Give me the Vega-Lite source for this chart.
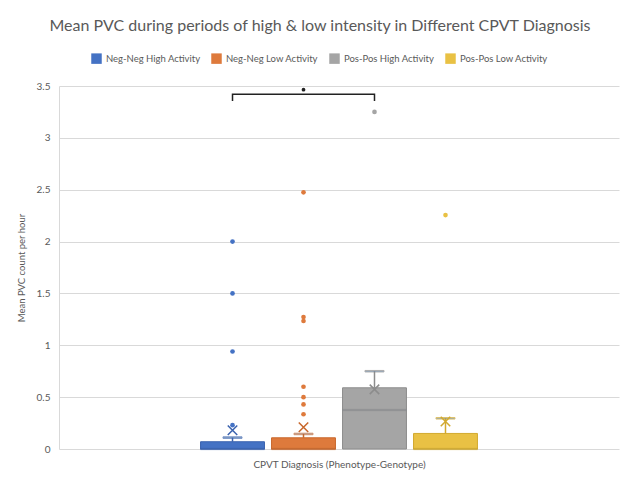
{
  "$schema": "https://vega.github.io/schema/vega-lite/v6.json",
  "autosize": {"type": "none"},
  "width": 560,
  "height": 363,
  "padding": {"left": 59, "top": 86, "right": 6, "bottom": 30},
  "background": "white",
  "config": {
    "font": "Lato",
    "view": {"stroke": null},
    "axis": {"labelColor": "#595959", "titleColor": "#595959", "labelFontSize": 10, "titleFontSize": 10, "titleFontWeight": "normal"}
  },
  "title": {
    "text": "Mean PVC during periods of high & low intensity in Different CPVT Diagnosis",
    "fontSize": 16,
    "fontWeight": "normal",
    "color": "#595959",
    "anchor": "middle",
    "dx": -19,
    "offset": 19
  },
  "datasets": {
    "stats": [
      {"group": "Neg-Neg High Activity", "q1": 0, "q3": 0.07, "median": 0, "whisker": 0.11, "mean": 0.18},
      {"group": "Neg-Neg Low Activity", "q1": 0, "q3": 0.108, "median": 0, "whisker": 0.145, "mean": 0.21},
      {"group": "Pos-Pos High Activity", "q1": 0, "q3": 0.59, "median": 0.376, "whisker": 0.75, "mean": 0.575},
      {"group": "Pos-Pos Low Activity", "q1": 0, "q3": 0.15, "median": 0, "whisker": 0.296, "mean": 0.265}
    ],
    "outliers": [
      {"group": "Neg-Neg High Activity", "value": 2.0},
      {"group": "Neg-Neg High Activity", "value": 1.5},
      {"group": "Neg-Neg High Activity", "value": 0.94},
      {"group": "Neg-Neg High Activity", "value": 0.23},
      {"group": "Neg-Neg Low Activity", "value": 2.475},
      {"group": "Neg-Neg Low Activity", "value": 1.273},
      {"group": "Neg-Neg Low Activity", "value": 1.234},
      {"group": "Neg-Neg Low Activity", "value": 0.6},
      {"group": "Neg-Neg Low Activity", "value": 0.5},
      {"group": "Neg-Neg Low Activity", "value": 0.43},
      {"group": "Neg-Neg Low Activity", "value": 0.335},
      {"group": "Pos-Pos High Activity", "value": 3.25},
      {"group": "Pos-Pos Low Activity", "value": 2.255}
    ],
    "bracket": [
      {"group": "Neg-Neg High Activity", "value": 3.355, "idx": 1},
      {"group": "Neg-Neg High Activity", "value": 3.42, "idx": 2},
      {"group": "Pos-Pos High Activity", "value": 3.42, "idx": 3},
      {"group": "Pos-Pos High Activity", "value": 3.355, "idx": 4}
    ],
    "star": [
      {"group": "Neg-Neg Low Activity", "value": 3.465}
    ]
  },
  "encoding": {
    "x": {
      "datum": "CPVT",
      "type": "nominal",
      "scale": {"paddingInner": 0, "paddingOuter": 0.486},
      "axis": {"labels": false, "ticks": false, "domain": false, "grid": false, "title": "CPVT Diagnosis (Phenotype-Genotype)", "titlePadding": 10}
    },
    "xOffset": {
      "field": "group",
      "type": "nominal",
      "sort": ["Neg-Neg High Activity", "Neg-Neg Low Activity", "Pos-Pos High Activity", "Pos-Pos Low Activity"],
      "scale": {"paddingInner": 0.1, "paddingOuter": 0.05}
    }
  },
  "layer": [
    {
      "data": {"name": "stats"},
      "mark": {"type": "bar", "strokeWidth": 1},
      "encoding": {
        "y": {
          "field": "q1", "type": "quantitative",
          "scale": {"domain": [0, 3.5], "nice": false},
          "axis": {"values": [0, 0.5, 1, 1.5, 2, 2.5, 3, 3.5], "format": "~g", "title": "Mean PVC count per hour", "titleFontSize": 9.5, "gridColor": "#d9d9d9", "domainColor": "#d9d9d9", "ticks": false, "labelPadding": 9, "titlePadding": 10}
        },
        "y2": {"field": "q3"},
        "color": {
          "field": "group", "type": "nominal",
          "scale": {"domain": ["Neg-Neg High Activity", "Neg-Neg Low Activity", "Pos-Pos High Activity", "Pos-Pos Low Activity"], "range": ["#4472C4", "#DE7A3C", "#A5A5A5", "#E9C144"]},
          "legend": {"orient": "none", "legendX": 32, "legendY": -33, "direction": "horizontal", "title": null, "symbolType": "square", "symbolSize": 110, "labelFontSize": 9.5, "labelColor": "#595959", "columnPadding": 10, "symbolStrokeWidth": 0}
        },
        "stroke": {
          "field": "group", "type": "nominal",
          "scale": {"domain": ["Neg-Neg High Activity", "Neg-Neg Low Activity", "Pos-Pos High Activity", "Pos-Pos Low Activity"], "range": ["#3A62AE", "#C8672B", "#8C8C8C", "#D2A92E"]},
          "legend": null
        }
      }
    },
    {
      "data": {"name": "stats"},
      "mark": {"type": "rule", "strokeWidth": 1.5},
      "encoding": {
        "y": {"field": "q3", "type": "quantitative"},
        "y2": {"field": "whisker"},
        "stroke": {"field": "group", "type": "nominal", "legend": null}
      }
    },
    {
      "data": {"name": "stats"},
      "mark": {"type": "tick", "size": 19, "thickness": 1.5},
      "encoding": {
        "y": {"field": "whisker", "type": "quantitative"},
        "stroke": {"field": "group", "type": "nominal", "legend": null}
      }
    },
    {
      "data": {"name": "stats"},
      "mark": {"type": "tick", "size": 64, "thickness": 1.2},
      "encoding": {
        "y": {"field": "median", "type": "quantitative"},
        "stroke": {"field": "group", "type": "nominal", "legend": null}
      }
    },
    {
      "data": {"name": "stats"},
      "mark": {"type": "point", "shape": "M-1,-1L1,1M-1,1L1,-1", "filled": false, "size": 90, "strokeWidth": 1.5, "opacity": 1},
      "encoding": {
        "y": {"field": "mean", "type": "quantitative"},
        "stroke": {"field": "group", "type": "nominal", "legend": null}
      }
    },
    {
      "data": {"name": "outliers"},
      "mark": {"type": "circle", "size": 22, "opacity": 1},
      "encoding": {
        "y": {"field": "value", "type": "quantitative"},
        "color": {"field": "group", "type": "nominal"}
      }
    },
    {
      "data": {"name": "bracket"},
      "mark": {"type": "line", "color": "#222222", "strokeWidth": 1.5},
      "encoding": {
        "y": {"field": "value", "type": "quantitative"},
        "order": {"field": "idx", "type": "quantitative"}
      }
    },
    {
      "data": {"name": "star"},
      "mark": {"type": "circle", "size": 14, "color": "#222222", "opacity": 1},
      "encoding": {
        "y": {"field": "value", "type": "quantitative"}
      }
    }
  ]
}
